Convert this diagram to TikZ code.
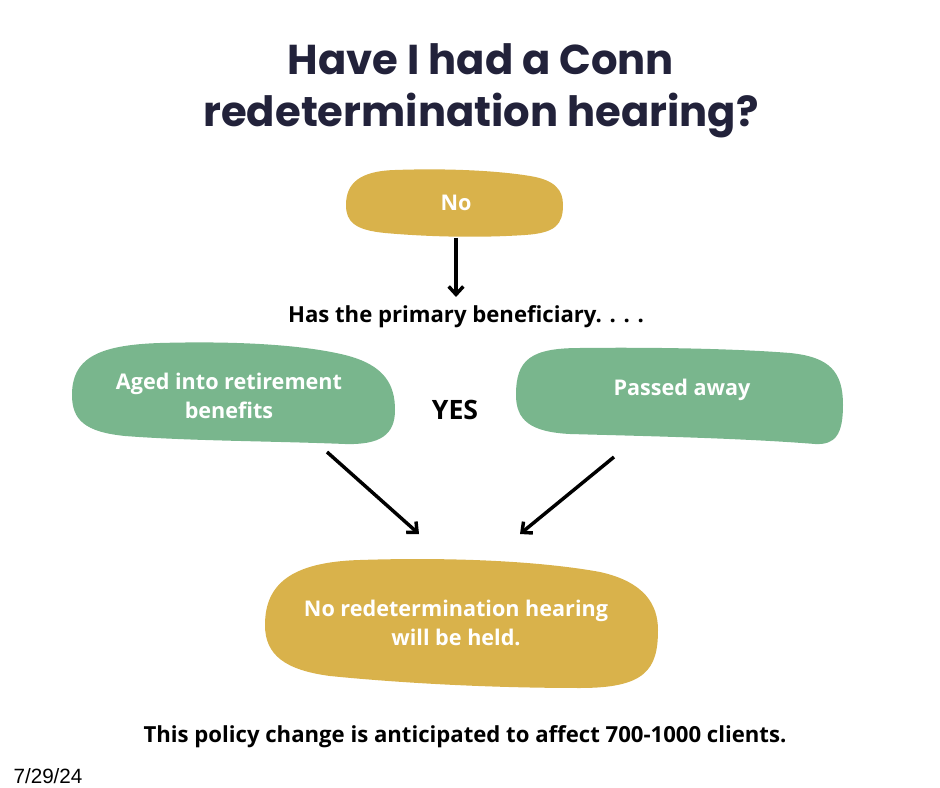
\documentclass[tikz,border=0pt]{standalone}
\usepackage{fontspec}
\setmainfont{Open Sans}
\newfontfamily\titlefont{Poppins}
\newfontfamily\datefont{Liberation Sans}
\usetikzlibrary{arrows.meta}

\definecolor{gold}{HTML}{D9B24B}
\definecolor{sage}{HTML}{79B68D}
\definecolor{navy}{HTML}{22223A}

\begin{document}
\begin{tikzpicture} [
                x=0.75pt, y=-0.75pt,
                blobtext/.style={
                    text=white,
                    font=\bfseries\fontsize{16.2}{21.5}\selectfont,
                    align=center
                },
                plaintext/.style={
                    text=black,
                    font=\bfseries\fontsize{16.6}{20}\selectfont
                },
                flowarrow/.style={
                    -{Straight Barb[length=6pt,width=11pt,line width=2.6pt]},
                    line width=2.6pt
                }
            ]

                \useasboundingbox (0,0) rectangle (940,788);

                % title
                \node[text=navy, font=\titlefont\bfseries\fontsize{31.3}{39}\selectfont, align=center]
                    (title)     at (481,91)     {Have I had a Conn\\redetermination hearing?};

                % blobs
                \fill[gold] (346,205) .. controls (346,183) and (360,171) .. (395,170)
                    .. controls (450,168) and (500,171) .. (530,176)
                    .. controls (555,180) and (563,190) .. (563,205)
                    .. controls (563,225) and (555,233) .. (525,235)
                    .. controls (480,238) and (430,237) .. (385,233)
                    .. controls (355,230) and (346,222) .. (346,205) -- cycle;
                \fill[sage] (72,395) .. controls (72,360) and (95,345) .. (160,343)
                    .. controls (230,341) and (300,344) .. (345,355)
                    .. controls (385,365) and (395,385) .. (395,410)
                    .. controls (395,435) and (380,445) .. (345,444)
                    .. controls (270,441) and (190,441) .. (125,436)
                    .. controls (85,432) and (72,420) .. (72,395) -- cycle;
                \fill[sage] (516,395) .. controls (516,360) and (530,348) .. (580,348)
                    .. controls (660,347) and (740,349) .. (790,353)
                    .. controls (830,357) and (843,372) .. (843,405)
                    .. controls (843,435) and (835,445) .. (815,444)
                    .. controls (740,438) and (640,436) .. (570,434)
                    .. controls (530,432) and (516,420) .. (516,395) -- cycle;
                \fill[gold] (265,625) .. controls (265,585) and (290,562) .. (360,560)
                    .. controls (450,557) and (540,561) .. (600,572)
                    .. controls (645,582) and (658,605) .. (658,630)
                    .. controls (658,670) and (645,688) .. (580,688)
                    .. controls (490,688) and (400,683) .. (330,676)
                    .. controls (285,670) and (265,655) .. (265,625) -- cycle;

                \node[blobtext]     (no)        at (456,203)    {No};
                \node[blobtext]     (aged)      at (229,396)    {Aged into retirement\\benefits};
                \node[blobtext]     (passed)    at (682,390)    {Passed away};
                \node[blobtext]     (held)      at (456,623)    {No redetermination hearing\\will be held.};

                \node[plaintext]    (has)       at (466,317)    {Has the primary beneficiary. . . .};
                \node[plaintext, font=\bfseries\fontsize{20}{24}\selectfont]
                                    (yes)       at (455,410)    {YES};
                \node[plaintext]    (note)      at (465,737)    {This policy change is anticipated to affect 700-1000 clients.};
                \node[font=\datefont\fontsize{15.5}{18}\selectfont]
                                    (date)      at (48,776)     {7/29/24};

                % arrow ends
                \coordinate (noout)     at (456,238);
                \coordinate (hasin)     at (456,297);
                \coordinate (agedout)   at (327,452);
                \coordinate (passedout) at (614,457);
                \coordinate (heldinl)   at (419,534);
                \coordinate (heldinr)   at (520,534);

                \draw[flowarrow] (noout) -- (hasin);
                \draw[flowarrow] (agedout) -- (heldinl);
                \draw[flowarrow] (passedout) -- (heldinr);

            \end{tikzpicture}
\end{document}
